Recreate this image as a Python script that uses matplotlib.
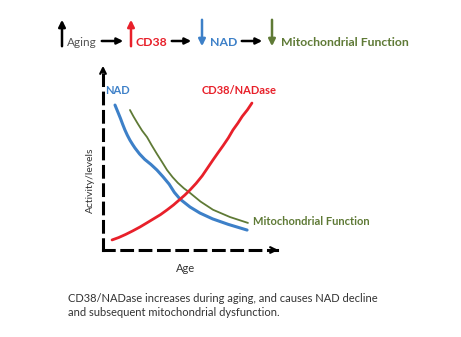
import matplotlib.pyplot as plt

plt.rcParams['font.family'] = ['Lato', 'DejaVu Sans']

# curves (age 0-10, level 0-10)
nad_age = [0.69, 0.85, 1.0, 1.13, 1.26, 1.4, 1.55, 1.7, 1.84, 2.1, 2.4, 2.75, 3.1, 3.45, 3.8, 4.1, 4.43, 5.0, 5.57, 6.3, 7.2, 8.28]
nad_lvl = [7.92, 7.55, 7.2, 6.87, 6.56, 6.27, 6.0, 5.77, 5.57, 5.25, 4.95, 4.68, 4.37, 4.0, 3.6, 3.15, 2.78, 2.35, 2.02, 1.7, 1.4, 1.09]
mito_age = [1.55, 1.75, 2.0, 2.25, 2.53, 2.8, 3.1, 3.4, 3.68, 4.0, 4.3, 4.65, 5.0, 5.6, 6.32, 7.3, 8.33]
mito_lvl = [7.65, 7.3, 6.9, 6.52, 6.17, 5.72, 5.25, 4.8, 4.37, 3.98, 3.67, 3.37, 3.12, 2.65, 2.2, 1.8, 1.48]
cd38_age = [0.52, 0.9, 1.3, 1.7, 2.13, 2.5, 2.9, 3.3, 3.68, 4.05, 4.4, 4.7, 5.0, 5.35, 5.7, 6.0, 6.32, 6.6, 6.9, 7.2, 7.47, 7.75, 8.0, 8.3, 8.56]
cd38_lvl = [0.55, 0.68, 0.85, 1.04, 1.26, 1.47, 1.7, 1.93, 2.19, 2.46, 2.75, 3.0, 3.28, 3.64, 4.05, 4.47, 4.92, 5.3, 5.7, 6.12, 6.56, 6.93, 7.3, 7.66, 8.03]

red = '#e8202a'
blue = '#3d80c8'
green = '#5f7a36'

W, H = 461, 337
fig = plt.figure(figsize=(W / 100, H / 100), dpi=100)

# overlay in pixel coords for the text / arrows
ov = fig.add_axes([0, 0, 1, 1])
ov.set_xlim(0, W)
ov.set_ylim(H, 0)
ov.axis('off')

# plot area: x 103..277 px, y 250..67 px
x0, x1, yb, yt = 103, 277, 250, 67
ax = fig.add_axes([x0 / W, 1 - yb / H, (x1 - x0) / W, (yb - yt) / H])
ax.set_xlim(0, 10)
ax.set_ylim(0, 10)
ax.patch.set_alpha(0)
for s in ['top', 'right']:
    ax.spines[s].set_visible(False)
for s in ['left', 'bottom']:
    ax.spines[s].set_linestyle((0, (3.5, 2.5)))
    ax.spines[s].set_linewidth(2.2)
    ax.spines[s].set_color('black')
ax.set_xticks([])
ax.set_yticks([])

ax.plot(mito_age, mito_lvl, color=green, lw=1.3, solid_capstyle='round', solid_joinstyle='round')
ax.plot(nad_age, nad_lvl, color=blue, lw=2.2, solid_capstyle='round', solid_joinstyle='round')
ax.plot(cd38_age, cd38_lvl, color=red, lw=2.0, solid_capstyle='round', solid_joinstyle='round')

ax.text(0.1, 8.7, 'NAD', color=blue, fontsize=8, fontweight='bold', va='center')
ax.text(7.8, 8.7, 'CD38/NADase', color=red, fontsize=8, fontweight='bold', va='center', ha='center')
ax.text(8.6, 1.55, 'Mitochondrial Function', color=green, fontsize=8, fontweight='bold', va='center')

# axis arrowheads
ov.annotate('', xy=(103, 63), xytext=(103, 75),
            arrowprops=dict(arrowstyle='->', lw=1.6, color='black', mutation_scale=10))
ov.annotate('', xy=(281, 250), xytext=(268, 250),
            arrowprops=dict(arrowstyle='->', lw=1.6, color='black', mutation_scale=10))
ov.text(90, 180, 'Activity/levels', rotation=90, fontsize=7.5, color='#333333', ha='center', va='center')
ov.text(186, 268, 'Age', fontsize=8, color='#333333', ha='center', va='center')

# top row
ty = 41


def vert(x, color, up):
    a, b = (49, 17) if up else (17, 49)
    ov.annotate('', xy=(x, b), xytext=(x, a),
                arrowprops=dict(arrowstyle='-|>', lw=1.8, color=color, mutation_scale=10))


def horiz(xa, xb):
    ov.annotate('', xy=(xb, ty), xytext=(xa, ty),
                arrowprops=dict(arrowstyle='-|>', lw=1.8, color='black', mutation_scale=9))


vert(62, 'black', True)
ov.text(67, ty + 1, 'Aging', fontsize=8.5, color='#555555', va='center')
horiz(99, 126)
vert(131, red, True)
ov.text(135, ty + 1, 'CD38', fontsize=8.8, color=red, fontweight='bold', va='center')
horiz(169, 194)
vert(202, blue, False)
ov.text(210, ty + 1, 'NAD', fontsize=8.8, color=blue, fontweight='bold', va='center')
horiz(239, 265)
vert(272, green, False)
ov.text(281, ty + 1, 'Mitochondrial Function', fontsize=8.8, color=green, fontweight='bold', va='center')

# caption
ov.text(68, 298, 'CD38/NADase increases during aging, and causes NAD decline',
        fontsize=8.0, color='#333333', va='center')
ov.text(68, 313, 'and subsequent mitochondrial dysfunction.',
        fontsize=8.0, color='#333333', va='center')

fig.savefig('out.png', dpi=100)
